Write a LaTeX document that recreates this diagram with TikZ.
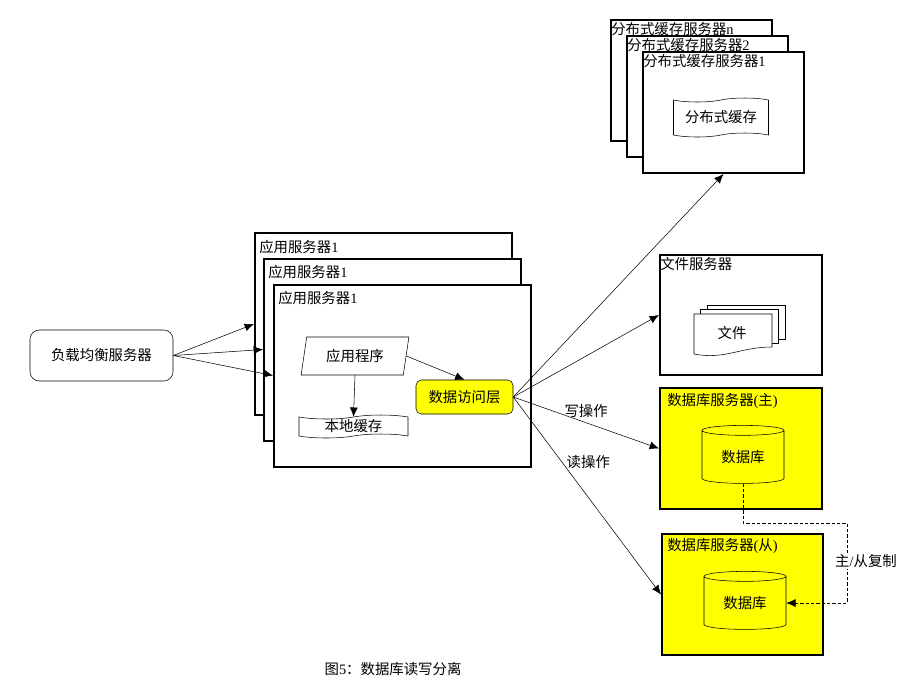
\documentclass[tikz,border=0pt]{standalone}
\usepackage{fontspec}
\setmainfont{Noto Sans CJK SC}
\newfontfamily\numfont{Liberation Serif}
\usetikzlibrary{positioning,arrows.meta,shapes.geometric,shapes.symbols}
\definecolor{hiyellow}{RGB}{255,255,0}
\tikzset{
  every node/.style={font=\fontsize{10.8}{13}\selectfont},
  >={Latex[length=7pt,width=6pt]},
  srvbox/.style={draw, fill=white, line width=1.5pt, minimum width=120.75pt, minimum height=90.75pt, inner sep=0pt},
  appbox/.style={srvbox, minimum width=192.75pt, minimum height=136.5pt},
  dbbox/.style={srvbox, fill=hiyellow},
  boxname/.style={anchor=west, inner sep=0pt},
  tapenode/.style={tape, draw, fill=white, tape bend top=in and out, tape bend bottom=in and out, tape bend height=3pt, inner sep=0pt},
  dbcyl/.style={cylinder, draw, fill=hiyellow, shape border rotate=90, aspect=0.23, minimum width=61.5pt, minimum height=43.5pt, inner sep=0pt},
  sheet/.style={draw, fill=white, minimum width=58.5pt, minimum height=25.5pt, inner sep=0pt}
}
\begin{document}
\begin{tikzpicture}[x=0.75pt, y=-0.75pt]
  \useasboundingbox (0,0) rectangle (915,694);

  \node (lb) [draw, rounded corners=7pt, minimum width=107.25pt, minimum height=38.25pt] at (101.5,355.5) {负载均衡服务器};

  \node (appA) [appbox] at (383.5,324) {};
  \node (appB) [appbox] at (392.5,349.5) {};
  \node (appC) [appbox] at (402.5,375.5) {};
  \node (appAname) [boxname] at (259,247) {应用服务器{\numfont 1}};
  \node (appBname) [boxname] at (268,272) {应用服务器{\numfont 1}};
  \node (appCname) [boxname] at (278,298) {应用服务器{\numfont 1}};
  \node (prog) [trapezium, draw, trapezium stretches=true, trapezium left angle=76, trapezium right angle=104, minimum width=81pt, minimum height=28.5pt, inner sep=0pt] at (355,356) {应用程序};
  \node (cache) [tapenode, minimum width=81.75pt, minimum height=17.25pt] at (353.5,426.5) {本地缓存};
  \node (dal) [draw, fill=hiyellow, rounded corners=4pt, minimum width=72.75pt, minimum height=25.5pt, inner sep=0pt] at (464.5,397) {数据访问层};

  \node (distN) [srvbox] at (691.5,80.5) {};
  \node (distB) [srvbox] at (707.5,96.5) {};
  \node (distA) [srvbox] at (723.5,112.5) {};
  \node (distNname) [boxname] at (611,29) {分布式缓存服务器{\numfont n}};
  \node (distBname) [boxname] at (627,45) {分布式缓存服务器{\numfont 2}};
  \node (distAname) [boxname] at (643,61) {分布式缓存服务器{\numfont 1}};
  \node (distcache) [tapenode, minimum width=71.25pt, minimum height=29.25pt] at (721,117.5) {分布式缓存};

  \node (file) [srvbox, minimum width=121.5pt, minimum height=90pt] at (741,315) {};
  \node (fileName) [boxname] at (660,264) {文件服务器};
  \node (sheetA) [sheet] at (746,322) {};
  \node (sheetB) [sheet] at (739.5,326) {};
  \draw[fill=white] (694,314) -- (772,314) -- (772,347) .. controls (740,347) and (725,360) .. (694,354) -- cycle;
  \node (fileTxt) at (732,333) {文件};

  \node (dbM) [dbbox, minimum width=121.5pt] at (741,448.5) {};
  \node (dbMname) [boxname] at (667,401) {数据库服务器{\numfont (}主{\numfont )}};
  \node (cylM) [dbcyl] at (743,457) {数据库};

  \node (dbS) [dbbox] at (742.5,594.5) {};
  \node (dbSname) [boxname] at (667,546) {数据库服务器{\numfont (}从{\numfont )}};
  \node (cylS) [dbcyl] at (745,603) {数据库};

  \draw[->] (lb.east) to (appA.west);
  \draw[->] (lb.east) to (appB.west);
  \draw[->] (lb.east) to (appC.west);
  \draw[->] (prog.east) to (dal.north);
  \draw[->] (prog.south) to (cache.north);
  \draw[->] (dal.east) to (distA.south);
  \draw[->] (dal.east) to (file.west);
  \draw[->] (dal.east) to node[above] {写操作} (dbM.west);
  \draw[->] (dal.east) to node[pos=0.33, right] {读操作} (dbS.west);

  \coordinate (replTurn) at (847,523);
  \draw[->, dashed, dash pattern=on 2.5pt off 1.5pt] (cylM.south) |- (replTurn) |- (cylS.east);
  \node (replTxt) [fill=white, inner sep=1pt] at (866,561) {主{\numfont /}从复制};

  \node (caption) at (393,669) {图{\numfont 5}：数据库读写分离};
\end{tikzpicture}
\end{document}
